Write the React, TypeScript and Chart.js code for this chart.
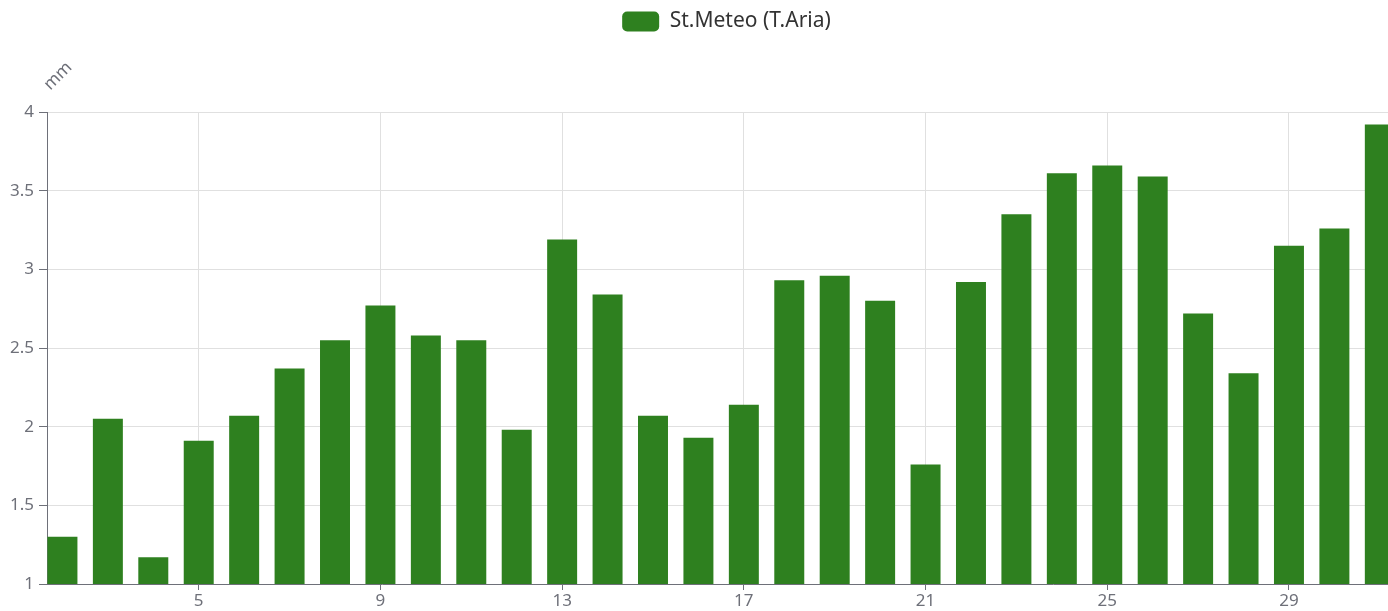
import React, { useEffect, useRef } from "react";
import { Chart, registerables } from "chart.js";

Chart.register(...registerables);

const days = [2, 3, 4, 5, 6, 7, 8, 9, 10, 11, 12, 13, 14, 15, 16, 17, 18, 19, 20, 21, 22, 23, 24, 25, 26, 27, 28, 29, 30, 31];
const rainValues = [1.3, 2.05, 1.17, 1.91, 2.07, 2.37, 2.55, 2.77, 2.58, 2.55, 1.98, 3.19, 2.84, 2.07, 1.93, 2.14, 2.93, 2.96, 2.8, 1.76, 2.92, 3.35, 3.61, 3.66, 3.59, 2.72, 2.34, 3.15, 3.26, 3.92];
const xTickValues = [5, 9, 13, 17, 21, 25, 29];
const yTickValues = [1, 1.5, 2, 2.5, 3, 3.5, 4];
const yTickLabels = ["1", "1.5", "2", "2.5", "3", "3.5", "4"];
const seriesName = "St.Meteo (T.Aria)";
const yAxisName = "mm";

const FONT = "'Noto Sans', 'Open Sans', sans-serif";
const AXIS = "#6e7079";
const GRID = "#e0e0e0";
const BAR = "#2e801f";

export default function App() {
  const ref = useRef<HTMLCanvasElement | null>(null);

  useEffect(() => {
    if (!ref.current) return;
    const axisNamePlugin = {
      id: "axisName",
      afterInit(chart: any) {
        const lg = chart.legend;
        if (lg) {
          const orig = lg.fit.bind(lg);
          lg.fit = function () {
            orig();
            this.height = 112;
          };
        }
      },
      afterLayout(chart: any) {
        const lg = chart.legend;
        if (lg) {
          lg.left += 9;
          lg.right += 9;
        }
      },
      afterDraw(chart: any) {
        const ctx = chart.ctx;
        const area = chart.chartArea;
        ctx.save();
        ctx.translate(area.left + 11, area.top - 36);
        ctx.rotate(-Math.PI / 4);
        ctx.font = `17px ${FONT}`;
        ctx.fillStyle = AXIS;
        ctx.textAlign = "center";
        ctx.textBaseline = "middle";
        ctx.fillText(yAxisName, 0, 0);
        ctx.restore();
      },
    };

    const chart = new Chart(ref.current, {
      type: "bar",
      data: {
        datasets: [
          {
            label: seriesName,
            data: days.map((d, i) => ({ x: d, y: rainValues[i] })),
            backgroundColor: BAR,
            borderWidth: 0,
            barPercentage: 0.66,
            categoryPercentage: 1,
          },
        ],
      },
      options: {
        responsive: false,
        animation: false,
        layout: { padding: 0 },
        scales: {
          x: {
            type: "linear",
            min: 1.66,
            max: 31.18,
            offset: false,
            afterBuildTicks(scale: any) {
              scale.ticks = xTickValues.map((v) => ({ value: v }));
            },
            afterFit(scale: any) {
              scale.height = 27;
            },
            grid: {
              offset: false,
              color: GRID,
              tickColor: AXIS,
              tickLength: 6,
              drawTicks: true,
            },
            border: { color: AXIS, width: 1 },
            ticks: {
              color: AXIS,
              font: { size: 17, family: FONT },
              padding: 1,
              maxRotation: 0,
              autoSkip: false,
              callback: (v: any) => String(v),
            },
          },
          y: {
            min: 1,
            max: 4,
            afterBuildTicks(scale: any) {
              scale.ticks = yTickValues.map((v) => ({ value: v }));
            },
            afterFit(scale: any) {
              scale.width = 47;
            },
            grid: {
              color: GRID,
              tickColor: AXIS,
              tickLength: 8,
            },
            border: { color: AXIS, width: 1 },
            ticks: {
              color: AXIS,
              font: { size: 17, family: FONT },
              padding: 5,
              callback: (v: any) => {
                const i = yTickValues.indexOf(Number(v));
                return i >= 0 ? yTickLabels[i] : String(v);
              },
            },
          },
        },
        plugins: {
          legend: {
            display: true,
            position: "top",
            fullSize: false,
            labels: {
              boxWidth: 37,
              boxHeight: 20,
              useBorderRadius: true,
              borderRadius: 5,
              padding: 11,
              color: "#333",
              font: { size: 21, family: FONT },
            },
          },
          tooltip: { enabled: false },
        },
      },
      plugins: [axisNamePlugin],
    } as any);
    return () => chart.destroy();
  }, []);

  return (
    <div style={{ position: "absolute", left: 0, top: 0, width: 1388, height: 611, background: "#fff" }}>
      <canvas ref={ref} width={1388} height={611} style={{ display: "block" }} />
    </div>
  );
}
